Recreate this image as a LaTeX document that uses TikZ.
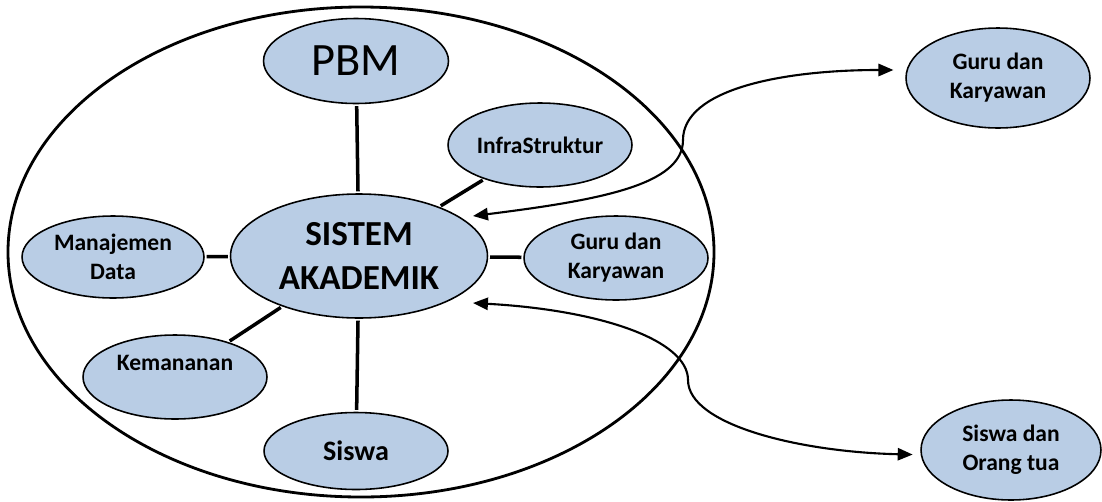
\documentclass[tikz,border=0pt]{standalone}
\usepackage{fontspec}
\setmainfont{Carlito}
\usetikzlibrary{shapes.geometric, arrows.meta}
\definecolor{bubble}{HTML}{B9CDE5}

\begin{document}
\begin{tikzpicture}[x=0.02cm, y=-0.02cm,
    bub/.style={ellipse, draw, fill=bubble, line width=0.9pt, inner sep=0pt,
        align=center, font=\fontsize{13.4}{16.5}\selectfont\bfseries,
        minimum width=3.68cm, minimum height=1.68cm},
    link/.style={line width=2pt, shorten <=1pt, shorten >=1pt},
    flow/.style={line width=1.2pt, {Triangle[length=8.5pt,width=7pt]}-{Triangle[length=8.5pt,width=7pt]}}]
    \useasboundingbox (0,0) rectangle (1102,501);
    \draw[line width=1.6pt] (361,252) ellipse [x radius=353, y radius=245];
    % inner bubbles
    \node[bub, minimum width=5.14cm, minimum height=2.48cm,
        font=\fontsize{20}{25}\selectfont\bfseries] (sistem) at (359,256) {SISTEM\\AKADEMIK};
    \node[bub, minimum width=3.7cm, minimum height=1.7cm,
        font=\fontsize{26.4}{30}\selectfont] (pbm) at (356,61) {PBM};
    \node[bub] (infra) at (540,145) {InfraStruktur};
    \node[bub] (gkin) at (616,258) {Guru dan\\Karyawan};
    \node[bub, minimum width=3.64cm, minimum height=1.64cm] (manaj) at (113,257) {Manajemen\\Data};
    \node[bub] (keman) at (175,377) {Kemananan\\\mbox{}};
    \node[bub, minimum height=1.54cm, font=\fontsize{16}{19}\selectfont\bfseries] (siswa) at (356,451) {Siswa};
    % outside
    \node[bub, minimum height=2cm] (gkout) at (998,78) {Guru dan\\Karyawan};
    \node[bub, minimum width=3.6cm, minimum height=2cm] (sdot) at (1011,450) {Siswa dan\\Orang tua};
    \coordinate (sisUp) at (473,216);
    \coordinate (sisDn) at (473,303);
    % spokes
    \draw[link] (pbm) -- (sistem);
    \draw[link] (infra) -- (sistem);
    \draw[link] (gkin) -- (sistem);
    \draw[link] (manaj) -- (sistem);
    \draw[link] (keman) -- (sistem);
    \draw[link] (siswa) -- (sistem);
    % arrows to the outside
    \draw[flow, shorten >=0.26cm] (sisUp) .. controls (600,200) and (683,185) .. (683,140)
        .. controls (683,90) and (780,70) .. (gkout.175);
    \draw[flow, shorten >=0.16cm] (sisDn) .. controls (600,310) and (688,340) .. (688,380)
        .. controls (688,425) and (800,452) .. (sdot.183);
\end{tikzpicture}
\end{document}
